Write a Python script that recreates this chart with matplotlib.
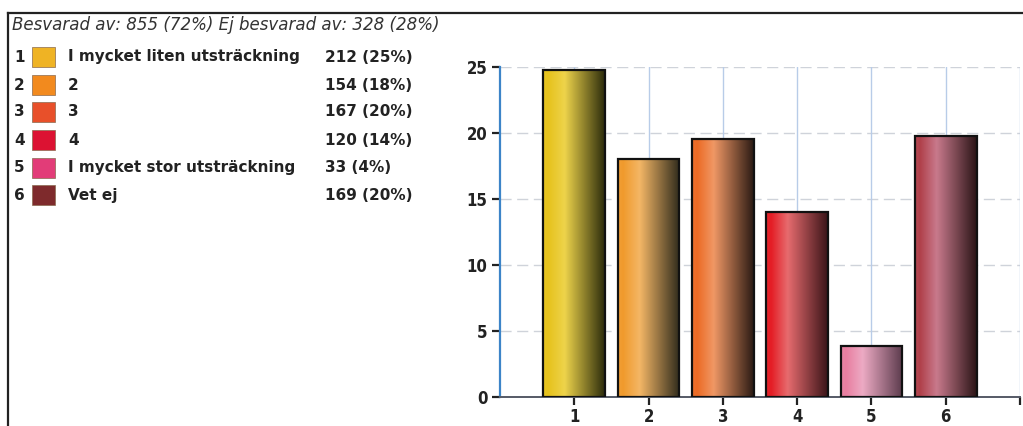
import numpy as np
import matplotlib
matplotlib.use("Agg")
import matplotlib.pyplot as plt
from matplotlib.colors import to_rgb
from matplotlib.lines import Line2D
from matplotlib.patches import Rectangle

# Survey answers
codes = ["1", "2", "3", "4", "5", "6"]
answers = ["I mycket liten utsträckning", "2", "3", "4",
           "I mycket stor utsträckning", "Vet ej"]
counts = [212, 154, 167, 120, 33, 169]
count_labels = ["212 (25%)", "154 (18%)", "167 (20%)", "120 (14%)", "33 (4%)", "169 (20%)"]
answered = 855
header = "Besvarad av: 855 (72%) Ej besvarad av: 328 (28%)"
yticks = [0, 5, 10, 15, 20, 25]

swatch_colors = ["#efb324", "#f28a1e", "#e8502a", "#dc1232", "#e23c78", "#7e2a2c"]
# left / highlight / dark shades for the cylinder-like bar fill
bar_shades = [
    ("#e6c21c", "#f3df6a", "#2c2c0c"),
    ("#f09a2c", "#f6c98c", "#2e2a1c"),
    ("#ec6a24", "#f2b690", "#2a1a14"),
    ("#e41c24", "#e8a0a0", "#3a1418"),
    ("#e87ea0", "#f0c8dc", "#5a3a4c"),
    ("#b0404a", "#d8a0b8", "#2a1416"),
]

percent = [c / answered * 100 for c in counts]

fig = plt.figure(figsize=(10.23, 4.26), dpi=100)
fig.patch.set_facecolor("white")

W, H = 1023, 426
def fx(px):
    return px / W
def fy(py):
    return 1 - py / H

# outer frame (top and left edges)
fig.add_artist(Line2D([fx(8), fx(8)], [fy(13), fy(426)], color="#222222", lw=1.6))
fig.add_artist(Line2D([fx(8), fx(1023)], [fy(13), fy(13)], color="#222222", lw=1.6))

fig.text(fx(12), fy(25), header, fontsize=12, style="italic", fontweight="medium",
         color="#333333", va="center", ha="left", family="DejaVu Sans")

row_y = [57, 85, 112, 140, 168, 195]
for code, ans, lab, col, y in zip(codes, answers, count_labels, swatch_colors, row_y):
    fig.text(fx(14), fy(y), code, fontsize=11, fontweight="bold", color="#222222",
             va="center", ha="left")
    fig.add_artist(Rectangle((fx(32), fy(y + 10)), fx(23), 20 / H,
                             facecolor=col, edgecolor="#8a6a50", lw=0.5,
                             transform=fig.transFigure))
    fig.text(fx(68), fy(y), ans, fontsize=11, fontweight="bold", color="#222222",
             va="center", ha="left")
    fig.text(fx(325), fy(y), lab, fontsize=11, fontweight="bold", color="#222222",
             va="center", ha="left")

ax = fig.add_axes([fx(500), fy(397), (1020 - 500) / W, (397 - 67) / H])
ax.set_facecolor("white")
ax.set_xlim(0, 7)
ax.set_ylim(0, 25)

x = np.arange(1, len(codes) + 1)
bars = ax.bar(x, percent, width=0.83, facecolor="none", edgecolor="#111111",
              linewidth=1.6, zorder=3)

for bar, (c0, c1, c2) in zip(bars, bar_shades):
    a, b, d = np.array(to_rgb(c0)), np.array(to_rgb(c1)), np.array(to_rgb(c2))
    t = np.linspace(0, 1, 200)
    stops = [0.0, 0.08, 0.35, 1.0]
    cols = [a * 0.9 + b * 0.1, a, b * 0.6 + a * 0.4, d]
    grad = np.zeros((1, len(t), 3))
    for ch in range(3):
        grad[0, :, ch] = np.interp(t, stops, [cc[ch] for cc in cols])
    x0, w = bar.get_x(), bar.get_width()
    h = bar.get_height()
    im = ax.imshow(grad, extent=[x0, x0 + w, 0, h], aspect="auto", zorder=2,
                   interpolation="bilinear")
    im.set_clip_path(bar)

ax.set_xticks(list(x) + [7])
ax.set_xticklabels(codes + [""])
ax.set_yticks(yticks)
ax.set_yticklabels([str(v) for v in yticks])

for lab in ax.get_xticklabels() + ax.get_yticklabels():
    lab.set_fontfamily("DejaVu Sans")
    lab.set_fontstretch("condensed")
    lab.set_fontweight("bold")
    lab.set_fontsize(12)
    lab.set_color("#222222")

ax.tick_params(axis="both", direction="out", length=6, width=1.6, color="#222222")
ax.tick_params(axis="x", pad=2)
ax.tick_params(axis="y", pad=3)

for v in yticks[1:]:
    ax.axhline(v, color="#cfd3da", lw=1.0, ls=(0, (8, 4)), zorder=1)
for v in list(x) + [7]:
    ax.axvline(v, color="#b8cce8", lw=1.0, zorder=1)

ax.spines["top"].set_visible(False)
ax.spines["right"].set_visible(False)
ax.spines["left"].set_color("#3c84c8")
ax.spines["left"].set_linewidth(1.6)
ax.spines["bottom"].set_color("#555a66")
ax.spines["bottom"].set_linewidth(1.4)

fig.savefig("out.png", dpi=100)
